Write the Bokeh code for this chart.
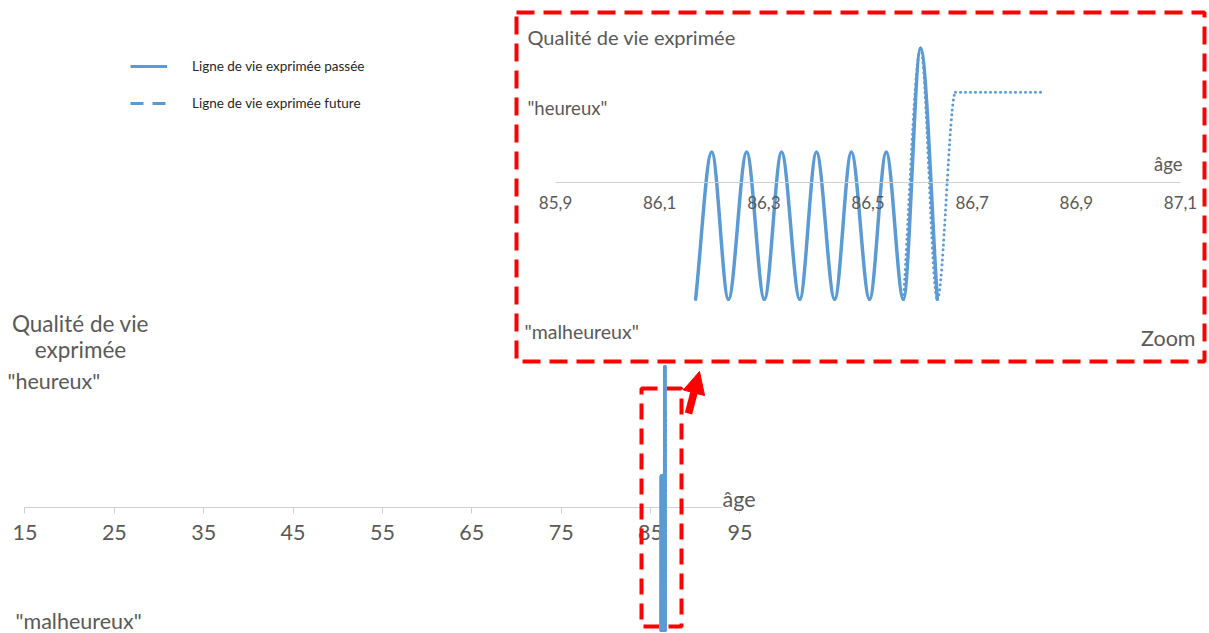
from bokeh.plotting import figure
from bokeh.models import (Range1d, LinearAxis, FixedTicker, CustomJSTickFormatter,
                          Label, BoxAnnotation, Arrow, NormalHead, Legend, LegendItem,
                          ColumnDataSource)
from bokeh.embed import file_html
from bokeh.resources import INLINE

# ---------------- data ----------------
past_age = [86.169, 86.200, 86.232, 86.267, 86.301, 86.334, 86.369, 86.401,
            86.436, 86.468, 86.503, 86.535, 86.568, 86.601, 86.633]
past_q = [-1.17, 0.30, -1.17, 0.30, -1.17, 0.30, -1.17, 0.30,
          -1.17, 0.30, -1.17, 0.30, -1.17, 1.34, -1.17]
future_age = [86.568, 86.601, 86.633, 86.668, 86.833]
future_q = [-1.17, 1.34, -1.17, 0.90, 0.90]

main_ticks = [15, 25, 35, 45, 55, 65, 75, 85, 95]
zoom_ticks = [85.9, 86.1, 86.3, 86.5, 86.7, 86.9, 87.1]

legend_labels = ["Ligne de vie exprimée passée", "Ligne de vie exprimée future"]

BLUE = "#5B9BD5"
GREY = "#595959"
AXIS = "#D0D0D0"
RED = "#FF0000"
FONT = "Lato"
W, H = 1209, 633
NAN = float("nan")
LW = 3.5


def smooth(xs, ys):
    """Smoothed line (like a spreadsheet 'smoothed line') as cubic Bezier segments."""
    n = len(xs)
    m = []
    for i in range(n):
        if i == 0:
            m.append((ys[1] - ys[0]) / (xs[1] - xs[0]))
        elif i == n - 1:
            m.append((ys[-1] - ys[-2]) / (xs[-1] - xs[-2]))
        else:
            d0 = ys[i] - ys[i - 1]
            d1 = ys[i + 1] - ys[i]
            if d0 * d1 <= 0:
                m.append(0.0)
            else:
                m.append((ys[i + 1] - ys[i - 1]) / (xs[i + 1] - xs[i - 1]))
    seg = dict(x0=[], y0=[], x1=[], y1=[], cx0=[], cy0=[], cx1=[], cy1=[])
    for i in range(n - 1):
        h = xs[i + 1] - xs[i]
        seg["x0"].append(xs[i]); seg["y0"].append(ys[i])
        seg["x1"].append(xs[i + 1]); seg["y1"].append(ys[i + 1])
        seg["cx0"].append(xs[i] + h / 3); seg["cy0"].append(ys[i] + m[i] * h / 3)
        seg["cx1"].append(xs[i + 1] - h / 3); seg["cy1"].append(ys[i + 1] - m[i + 1] * h / 3)
    return seg


def Y(ypx):
    return H - ypx


p = figure(width=W, height=H,
           x_range=Range1d(12.2583, 147.553), y_range=Range1d(-1.2, 4.8286),
           x_axis_type=None, y_axis_type=None, toolbar_location=None,
           output_backend="svg", min_border=0)
p.outline_line_color = None
p.background_fill_color = "white"
p.border_fill_color = "white"
p.extra_x_ranges = {"zx": Range1d(84.8343, 87.1557), "px": Range1d(0, W)}
p.extra_y_ranges = {"zy": Range1d(-4.513, 1.817), "py": Range1d(0, H)}

# ---------------- main chart ----------------
ax = LinearAxis(fixed_location=0, bounds=(15, 95), ticker=FixedTicker(ticks=main_ticks))
ax.axis_line_color = AXIS
ax.major_tick_line_color = AXIS
ax.major_tick_out = 6
ax.major_tick_in = 0
ax.minor_tick_line_color = None
ax.major_label_text_font = FONT
ax.major_label_text_font_size = "21.5px"
ax.major_label_text_color = GREY
ax.major_label_standoff = 11
p.add_layout(ax, "below")

src_past = ColumnDataSource(smooth(past_age, past_q))
src_fut = ColumnDataSource(smooth(future_age, future_q))

rf = p.bezier(x0="x0", y0="y0", x1="x1", y1="y1", cx0="cx0", cy0="cy0", cx1="cx1", cy1="cy1",
              source=src_fut, line_color=BLUE, line_width=LW, line_dash="0 5", line_cap="round")
rp = p.bezier(x0="x0", y0="y0", x1="x1", y1="y1", cx0="cx0", cy0="cy0", cx1="cx1", cy1="cy1",
              source=src_past, line_color=BLUE, line_width=LW, line_cap="round")
rf.level = "overlay"
rp.level = "overlay"

SH = 8  # baseline correction
for txt, x, y, align, size, bg in [("Qualité de vie", 80, 331, "center", "22.5px", None),
                                   ("exprimée", 80, 357, "center", "22.5px", None),
                                   ("\"heureux\"", 7, 388, "left", "21.5px", None),
                                   ("\"malheureux\"", 15, 628, "left", "21.5px", None),
                                   ("âge", 722, 506, "left", "21.5px", "white")]:
    p.add_layout(Label(x=x, y=Y(y - SH), x_range_name="px", y_range_name="py", text=txt,
                       text_font=FONT, text_font_size=size, text_color=GREY,
                       text_align=align, text_baseline="alphabetic",
                       background_fill_color=bg))

# ---------------- zoom inset ----------------
zax = LinearAxis(x_range_name="zx", y_range_name="zy", fixed_location=0, bounds=(85.9, 87.1),
                 ticker=FixedTicker(ticks=zoom_ticks),
                 formatter=CustomJSTickFormatter(code="return tick.toFixed(1).replace('.', ',');"))
zax.axis_line_color = AXIS
zax.major_tick_line_color = None
zax.minor_tick_line_color = None
zax.major_tick_out = 0
zax.major_tick_in = 0
zax.major_label_text_font = FONT
zax.major_label_text_font_size = "17px"
zax.major_label_text_color = GREY
zax.major_label_standoff = 14
p.add_layout(zax, "below")

p.bezier(x0="x0", y0="y0", x1="x1", y1="y1", cx0="cx0", cy0="cy0", cx1="cx1", cy1="cy1",
         source=src_fut, line_color=BLUE, line_width=3, line_dash="0 5", line_cap="round",
         x_range_name="zx", y_range_name="zy")
p.bezier(x0="x0", y0="y0", x1="x1", y1="y1", cx0="cx0", cy0="cy0", cx1="cx1", cy1="cy1",
         source=src_past, line_color=BLUE, line_width=LW, line_cap="round",
         x_range_name="zx", y_range_name="zy")

for txt, x, y, align, size in [("Qualité de vie exprimée", 527, 44, "left", "20px"),
                               ("\"heureux\"", 527, 115, "left", "18.5px"),
                               ("\"malheureux\"", 524, 339, "left", "19.5px"),
                               ("âge", 1182, 171, "right", "18.5px"),
                               ("Zoom", 1195, 345, "right", "21.5px")]:
    p.add_layout(Label(x=x, y=Y(y - SH), x_range_name="px", y_range_name="py", text=txt,
                       text_font=FONT, text_font_size=size, text_color=GREY,
                       text_align=align, text_baseline="alphabetic"))

# red dashed frames and arrow
p.add_layout(BoxAnnotation(left=516, right=1204, top=Y(12), bottom=Y(361),
                           x_range_name="px", y_range_name="py",
                           fill_alpha=0, line_color=RED, line_alpha=1.0,
                           line_width=4, line_dash="18 9"))
p.add_layout(BoxAnnotation(left=641, right=681, top=Y(388), bottom=Y(626),
                           x_range_name="px", y_range_name="py",
                           fill_alpha=0, line_color=RED, line_alpha=1.0,
                           line_width=4, line_dash="16 9"))
p.add_layout(Arrow(x_start=688, y_start=Y(413), x_end=699, y_end=Y(371),
                   x_range_name="px", y_range_name="py",
                   line_color=RED, line_width=7.5,
                   end=NormalHead(size=22, fill_color=RED, line_color=RED, line_width=1)))

# ---------------- legend ----------------
l1 = p.line(x=[NAN], y=[NAN], line_color=BLUE, line_width=3)
l2 = p.line(x=[NAN], y=[NAN], line_color=BLUE, line_width=3, line_dash="13 9")
legend = Legend(items=[LegendItem(label=legend_labels[0], renderers=[l1]),
                       LegendItem(label=legend_labels[1], renderers=[l2])],
                location=(130, H - 56 - 57))
legend.glyph_width = 37
legend.glyph_height = 20
legend.label_height = 20
legend.spacing = 17
legend.padding = 0
legend.margin = 0
legend.label_standoff = 25
legend.label_text_font = FONT
legend.label_text_font_size = "13.5px"
legend.label_text_color = "#262626"
legend.border_line_color = None
legend.background_fill_alpha = 0
p.add_layout(legend)

open("out.html", "w").write(file_html(p, INLINE))
